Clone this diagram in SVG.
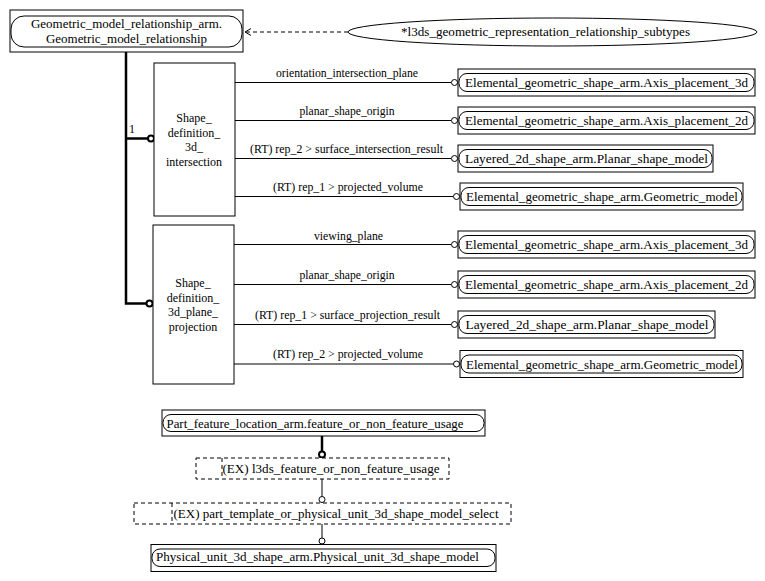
<svg xmlns="http://www.w3.org/2000/svg" width="765" height="581" viewBox="0 0 765 581" font-family="Liberation Serif, Times New Roman, serif">
<style>
text{font-family:"Liberation Serif","Times New Roman",serif;font-size:12px;fill:#000}
.c{text-anchor:middle}
.box{fill:#fff;stroke:#000;stroke-width:1}
.rr{fill:none;stroke:#000;stroke-width:1}
.dash{fill:#fff;stroke:#000;stroke-width:1;stroke-dasharray:4,3}
.ln{fill:none;stroke:#000;stroke-width:1}
.thick{fill:none;stroke:#000;stroke-width:2.5}
.oc{fill:#fff;stroke:#000;stroke-width:1}
.ocb{fill:#fff;stroke:#000;stroke-width:2}
</style>
<rect width="765" height="581" fill="#fff"/>
<g id="connectors">
  <path class="ln" d="M348,32 H245" stroke-dasharray="4,3"/>
  <path class="ln" d="M251,28.5 L245,32 L251,35.5"/>
  <path class="thick" d="M126,52 V303.5 H146"/>
  <path class="thick" d="M126,138.5 H148"/>
  <circle class="ocb" cx="151" cy="138.5" r="3"/>
  <circle class="ocb" cx="149.5" cy="303.5" r="3"/>
  <text x="129" y="133">1</text>
  <g id="g1lines">
    <path class="ln" d="M235,82.5 H451 M235,120.5 H451 M235,158.5 H451 M235,196.5 H453"/>
    <circle class="oc" cx="454.5" cy="82.5" r="3"/>
    <circle class="oc" cx="454.5" cy="120.5" r="3"/>
    <circle class="oc" cx="454.5" cy="158.5" r="3"/>
    <circle class="oc" cx="456.5" cy="196.5" r="3"/>
    <text class="c" x="347" y="77" textLength="142" lengthAdjust="spacingAndGlyphs">orientation_intersection_plane</text>
    <text class="c" x="347" y="115" textLength="95" lengthAdjust="spacingAndGlyphs">planar_shape_origin</text>
    <text class="c" x="346.5" y="153" textLength="193" lengthAdjust="spacingAndGlyphs">(RT) rep_2 &gt; surface_intersection_result</text>
    <text class="c" x="348" y="191" textLength="150" lengthAdjust="spacingAndGlyphs">(RT) rep_1 &gt; projected_volume</text>
  </g>
  <g id="g2lines">
    <path class="ln" d="M234,244.5 H451 M234,284.5 H451 M234,324.5 H451 M234,364 H453"/>
    <circle class="oc" cx="454.5" cy="244.5" r="3"/>
    <circle class="oc" cx="454.5" cy="284.5" r="3"/>
    <circle class="oc" cx="454.5" cy="324.5" r="3"/>
    <circle class="oc" cx="456.5" cy="364" r="3"/>
    <text class="c" x="348.5" y="240" textLength="69" lengthAdjust="spacingAndGlyphs">viewing_plane</text>
    <text class="c" x="347" y="279" textLength="95" lengthAdjust="spacingAndGlyphs">planar_shape_origin</text>
    <text class="c" x="347.5" y="319" textLength="185" lengthAdjust="spacingAndGlyphs">(RT) rep_1 &gt; surface_projection_result</text>
    <text class="c" x="348" y="358" textLength="150" lengthAdjust="spacingAndGlyphs">(RT) rep_2 &gt; projected_volume</text>
  </g>
  <path class="thick" d="M322,436 V451"/>
  <circle class="ocb" cx="322" cy="454.5" r="3"/>
  <path class="ln" d="M322,479 V496"/>
  <circle class="oc" cx="322" cy="499.5" r="3"/>
  <path class="ln" d="M322,524 V538"/>
  <circle class="oc" cx="322" cy="541" r="3"/>
</g>
<g id="n_gmr">
  <rect class="box" x="10" y="10" width="233" height="42"/>
  <rect class="rr" x="11" y="16" width="231" height="31" rx="13"/>
  <text class="c" x="126.5" y="28" textLength="191" lengthAdjust="spacingAndGlyphs">Geometric_model_relationship_arm.</text>
  <text class="c" x="126.5" y="43" textLength="161" lengthAdjust="spacingAndGlyphs">Geometric_model_relationship</text>
</g>
<g id="n_subtypes">
  <ellipse class="box" cx="552.5" cy="32" rx="204.5" ry="14"/>
  <text class="c" x="545.5" y="36" textLength="289" lengthAdjust="spacingAndGlyphs">*l3ds_geometric_representation_relationship_subtypes</text>
</g>
<g id="n_sd3di">
  <rect class="box" x="154" y="63" width="81" height="153"/>
  <text class="c" x="194" y="122">Shape_</text>
  <text class="c" x="194" y="136.5">definition_</text>
  <text class="c" x="194" y="151">3d_</text>
  <text class="c" x="194" y="165.5">intersection</text>
</g>
<g id="n_sd3dpp">
  <rect class="box" x="153" y="225" width="81" height="159"/>
  <text class="c" x="193" y="287">Shape_</text>
  <text class="c" x="193" y="301.5">definition_</text>
  <text class="c" x="193" y="316">3d_plane_</text>
  <text class="c" x="193" y="330.5">projection</text>
</g>
<g id="n_ap3d_1">
  <rect class="box" x="458" y="69" width="297" height="27"/>
  <rect class="rr" x="459" y="73.5" width="295" height="18" rx="8"/>
  <text class="c" x="606.5" y="87" textLength="283" lengthAdjust="spacingAndGlyphs">Elemental_geometric_shape_arm.Axis_placement_3d</text>
</g>
<g id="n_ap2d_1">
  <rect class="box" x="458" y="107" width="297" height="27"/>
  <rect class="rr" x="459" y="111.5" width="295" height="18" rx="8"/>
  <text class="c" x="606.5" y="125" textLength="283" lengthAdjust="spacingAndGlyphs">Elemental_geometric_shape_arm.Axis_placement_2d</text>
</g>
<g id="n_psm_1">
  <rect class="box" x="458" y="145" width="255" height="27"/>
  <rect class="rr" x="459" y="149.5" width="253" height="18" rx="8"/>
  <text class="c" x="586.5" y="163" textLength="243" lengthAdjust="spacingAndGlyphs">Layered_2d_shape_arm.Planar_shape_model</text>
</g>
<g id="n_gm_1">
  <rect class="box" x="460" y="183" width="283" height="27"/>
  <rect class="rr" x="461" y="187.5" width="281" height="18" rx="8"/>
  <text class="c" x="602" y="201" textLength="272" lengthAdjust="spacingAndGlyphs">Elemental_geometric_shape_arm.Geometric_model</text>
</g>
<g id="n_ap3d_2">
  <rect class="box" x="458" y="231" width="297" height="27"/>
  <rect class="rr" x="459" y="235.5" width="295" height="18" rx="8"/>
  <text class="c" x="606.5" y="249" textLength="283" lengthAdjust="spacingAndGlyphs">Elemental_geometric_shape_arm.Axis_placement_3d</text>
</g>
<g id="n_ap2d_2">
  <rect class="box" x="458" y="271" width="297" height="27"/>
  <rect class="rr" x="459" y="275.5" width="295" height="18" rx="8"/>
  <text class="c" x="606.5" y="289" textLength="283" lengthAdjust="spacingAndGlyphs">Elemental_geometric_shape_arm.Axis_placement_2d</text>
</g>
<g id="n_psm_2">
  <rect class="box" x="458" y="311" width="257" height="27"/>
  <rect class="rr" x="459" y="315.5" width="255" height="18" rx="8"/>
  <text class="c" x="587" y="329" textLength="243" lengthAdjust="spacingAndGlyphs">Layered_2d_shape_arm.Planar_shape_model</text>
</g>
<g id="n_gm_2">
  <rect class="box" x="460" y="350.5" width="283" height="27"/>
  <rect class="rr" x="461" y="355" width="281" height="18" rx="8"/>
  <text class="c" x="602" y="368.5" textLength="272" lengthAdjust="spacingAndGlyphs">Elemental_geometric_shape_arm.Geometric_model</text>
</g>
<g id="n_pfl">
  <rect class="box" x="162" y="410" width="323" height="26"/>
  <rect class="rr" x="163" y="414.5" width="321" height="17" rx="8"/>
  <text class="c" x="315" y="427.5" textLength="297" lengthAdjust="spacingAndGlyphs">Part_feature_location_arm.feature_or_non_feature_usage</text>
</g>
<g id="n_l3ds">
  <rect class="dash" x="196" y="458" width="253" height="21"/>
  <path class="ln" d="M222,458 V479" stroke-dasharray="4,3"/>
  <text x="222.5" y="472.5" textLength="217" lengthAdjust="spacingAndGlyphs">(EX) l3ds_feature_or_non_feature_usage</text>
</g>
<g id="n_ptpu">
  <rect class="dash" x="134" y="503" width="377" height="21"/>
  <path class="ln" d="M172,503 V524" stroke-dasharray="4,3"/>
  <text x="173.5" y="518" textLength="325" lengthAdjust="spacingAndGlyphs">(EX) part_template_or_physical_unit_3d_shape_model_select</text>
</g>
<g id="n_pu3d">
  <rect class="box" x="151" y="544.5" width="345" height="27"/>
  <rect class="rr" x="152" y="549" width="343" height="17.5" rx="8"/>
  <text class="c" x="317.5" y="561" textLength="323" lengthAdjust="spacingAndGlyphs">Physical_unit_3d_shape_arm.Physical_unit_3d_shape_model</text>
</g>
</svg>
